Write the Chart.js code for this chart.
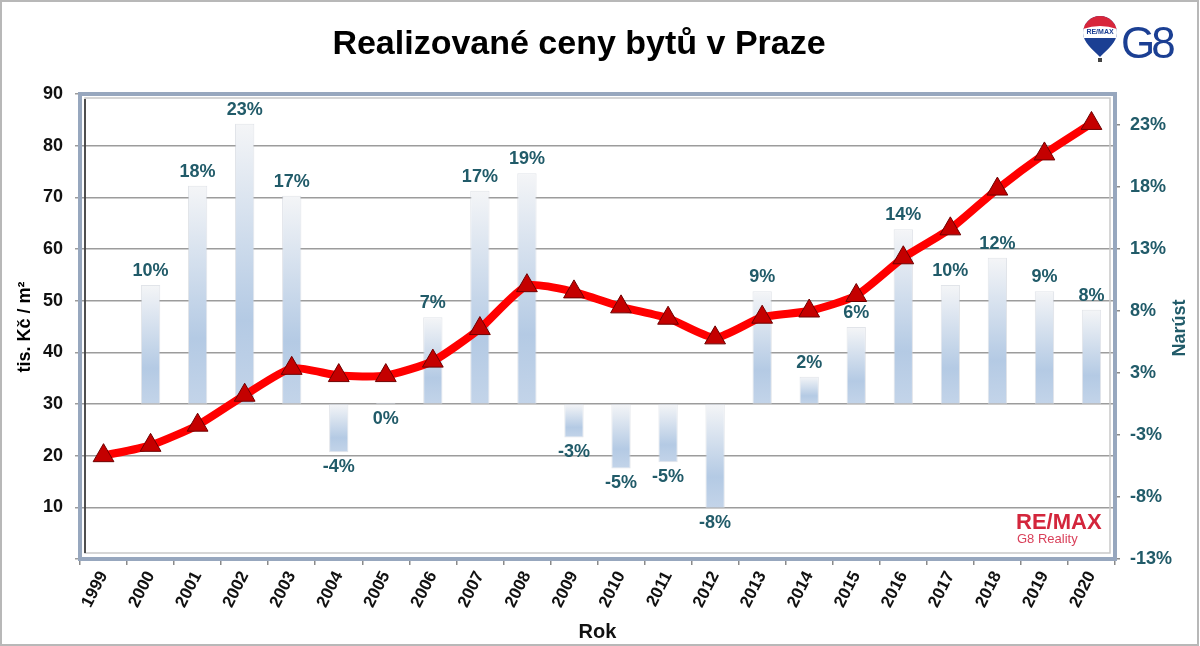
<!DOCTYPE html>
<html>
<head>
<meta charset="utf-8">
<script src="https://cdn.jsdelivr.net/npm/chart.js@4.4.1/dist/chart.umd.min.js"></script>
<style>
html, body { margin: 0; padding: 0; background: #fff; }
</style>
</head>
<body>
<canvas id="myChart" width="1200" height="646"></canvas>
<script>
// data
var years = ["1999", "2000", "2001", "2002", "2003", "2004", "2005", "2006", "2007", "2008", "2009",
  "2010", "2011", "2012", "2013", "2014", "2015", "2016", "2017", "2018", "2019", "2020"];

// tis. Kc / m2
var prices = [20, 22, 25.9, 31.7, 36.9, 35.5, 35.5, 38.3, 44.6, 52.9, 51.7,
  48.8, 46.6, 42.8, 46.8, 48.0, 51.0, 58.3, 63.9, 71.6, 78.4, 84.3];

// yearly growth in %
var growth = [null, 9.6, 17.6, 22.6, 16.8, -3.9, 0.1, 7.0, 17.2, 18.6, -2.7,
  -5.2, -4.7, -8.4, 9.1, 2.2, 6.2, 14.1, 9.6, 11.8, 9.1, 7.6];

var growthTicks = [-12.5, -7.5, -2.5, 2.5, 7.5, 12.5, 17.5, 22.5];

var FONT = "'Liberation Sans', Arial, sans-serif";
var TEAL = "#215b69";

//gradient for every bar, built from the right scale
function barFill(ctx) {
  var chart = ctx.chart;
  var sc = chart.scales.y2;
  if (!sc || ctx.raw == null || ctx.type !== "data") return "#c9d8ea";
  var y1 = sc.getPixelForValue(ctx.raw);
  var y0 = sc.getPixelForValue(0);
  var top = Math.min(y0, y1), bot = Math.max(y0, y1);
  if (bot - top < 1) bot = top + 1;
  var g = chart.ctx.createLinearGradient(0, top, 0, bot);
  g.addColorStop(0, "#f4f5f7");
  g.addColorStop(0.7, "#b4cae4");
  g.addColorStop(1, "#c3d4e9");
  return g;
}

function pctLabel(v) {
  var r = v < 0 ? -Math.round(-v) : Math.round(v);
  return r + "%";
}

//white page, outer border, plot frame
var framePlugin = {
  id: "frame",
  beforeDraw: function (chart) {
    var c = chart.ctx;
    c.save();
    c.fillStyle = "#fff";
    c.fillRect(0, 0, chart.width, chart.height);
    c.strokeStyle = "#b8b8b8";
    c.lineWidth = 2;
    c.strokeRect(1, 1, chart.width - 3, chart.height - 2);
    c.restore();
  },
  beforeDatasetsDraw: function (chart) {
    var a = chart.chartArea;
    var c = chart.ctx;
    c.save();
    c.strokeStyle = "#c9c9c9";
    c.lineWidth = 1.5;
    c.strokeRect(a.left + 5, a.top + 4, a.right - a.left - 10, a.bottom - a.top - 10);
    c.strokeStyle = "#222";
    c.beginPath();
    c.moveTo(a.left + 5, a.top + 5);
    c.lineTo(a.left + 5, a.bottom - 6);
    c.stroke();
    c.strokeStyle = "#97a7be";
    c.lineWidth = 4;
    c.strokeRect(a.left, a.top, a.right - a.left, a.bottom - a.top);
    c.restore();
  }
};

//percent labels on bars
var barLabels = {
  id: "barLabels",
  afterDatasetsDraw: function (chart) {
    var meta = chart.getDatasetMeta(1);
    var c = chart.ctx;
    c.save();
    c.font = "bold 18px " + FONT;
    c.fillStyle = TEAL;
    c.textAlign = "center";
    meta.data.forEach(function (bar, i) {
      var v = growth[i];
      if (v == null) return;
      var r = Math.round(v);
      if (r > 0) {
        c.textBaseline = "bottom";
        c.fillText(pctLabel(v), bar.x, Math.min(bar.y, bar.base) - 5);
      } else {
        c.textBaseline = "top";
        c.fillText(pctLabel(v), bar.x, Math.max(bar.y, bar.base) + 6);
      }
    });
    c.restore();
  }
};

//title, axis titles, logos
var extras = {
  id: "extras",
  afterDraw: function (chart) {
    var c = chart.ctx;
    c.save();
    c.fillStyle = "#000";
    c.font = "bold 34px " + FONT;
    c.textAlign = "center";
    c.textBaseline = "middle";
    c.fillText("Realizované ceny bytů v Praze", 579, 45);

    // left axis title
    c.save();
    c.translate(25, 327);
    c.rotate(-Math.PI / 2);
    c.font = "bold 18px " + FONT;
    c.fillText("tis. Kč / m²", 0, 0);
    c.restore();

    // right axis title
    c.save();
    c.translate(1180, 328);
    c.rotate(-Math.PI / 2);
    c.fillStyle = TEAL;
    c.font = "bold 18px " + FONT;
    c.fillText("Narúst", 0, 0);
    c.restore();

    // balloon
    var cx = 1100;
    c.save();
    c.beginPath();
    c.moveTo(cx, 57);
    c.bezierCurveTo(cx - 7, 50, cx - 17, 42, cx - 17, 33);
    c.arc(cx, 33, 17, Math.PI, 0);
    c.bezierCurveTo(cx + 17, 42, cx + 7, 50, cx, 57);
    c.closePath();
    c.clip();
    c.fillStyle = "#1b3f93";
    c.fillRect(cx - 20, 14, 40, 46);
    c.fillStyle = "#fff";
    c.fillRect(cx - 20, 26, 40, 12);
    c.fillStyle = "#d8263b";
    c.beginPath();
    c.moveTo(cx - 20, 14);
    c.lineTo(cx + 20, 14);
    c.lineTo(cx + 20, 30);
    c.quadraticCurveTo(cx, 22, cx - 20, 30);
    c.fill();
    c.restore();
    c.fillStyle = "#1b3f93";
    c.font = "bold 7px " + FONT;
    c.fillText("RE/MAX", cx, 32);
    c.fillStyle = "#444";
    c.fillRect(cx - 2, 58, 4, 4);

    c.fillStyle = "#1b3f93";
    c.font = "44px " + FONT;
    c.textAlign = "left";
    c.textBaseline = "alphabetic";
    if ("letterSpacing" in c) c.letterSpacing = "-4px";
    c.fillText("G8", 1121, 58);
    if ("letterSpacing" in c) c.letterSpacing = "0px";

    // small logo in the plot
    c.fillStyle = "#d3263c";
    c.font = "bold 22px " + FONT;
    c.fillText("RE/MAX", 1016, 529);
    c.font = "13px " + FONT;
    c.fillStyle = "#d9405a";
    c.fillText("G8 Reality", 1017, 543);
    c.restore();
  }
};

new Chart("myChart", {
  data: {
    labels: years,
    datasets: [
      {
        type: "line",
        label: "Cena",
        data: prices,
        yAxisID: "y",
        order: 1,
        borderColor: "#ff0000",
        borderWidth: 8,
        tension: 0.2,
        pointStyle: "triangle",
        pointRadius: 12,
        pointBackgroundColor: "#c40000",
        pointBorderColor: "#6e0000",
        pointBorderWidth: 1
      },
      {
        type: "bar",
        label: "Narust",
        data: growth,
        yAxisID: "y2",
        order: 2,
        backgroundColor: barFill,
        borderColor: "rgba(205,210,218,0.6)",
        borderWidth: 1,
        borderSkipped: false,
        barPercentage: 0.41,
        categoryPercentage: 1
      }
    ]
  },
  plugins: [framePlugin, barLabels, extras],
  options: {
    responsive: false,
    animation: false,
    layout: { padding: { top: 94, left: 0, right: 0, bottom: 0 } },
    plugins: {
      legend: { display: false },
      title: { display: false },
      tooltip: { enabled: false }
    },
    scales: {
      x: {
        type: "category",
        offset: true,
        grid: { display: true, drawOnChartArea: false, drawTicks: true, tickLength: 6, offset: true, color: "#8a8a8a", lineWidth: 1.5 },
        border: { display: false },
        ticks: {
          autoSkip: false,
          maxRotation: 63,
          minRotation: 63,
          padding: 3,
          color: "#111",
          font: { family: FONT, size: 17, weight: "bold" }
        },
        title: {
          display: true,
          text: "Rok",
          color: "#111",
          font: { family: FONT, size: 20, weight: "bold" },
          padding: { top: 0, bottom: 2 }
        },
        afterFit: function (s) { s.height = 87; }
      },
      y: {
        position: "left",
        min: 0,
        max: 90,
        grid: { color: "#9c9c9c", lineWidth: 1.5, drawTicks: true, tickLength: 5 },
        border: { display: false },
        ticks: {
          stepSize: 10,
          padding: 12,
          color: "#111",
          font: { family: FONT, size: 18, weight: "bold" },
          callback: function (v) { return v === 0 ? "" : v; }
        },
        afterFit: function (s) { s.width = 80; }
      },
      y2: {
        position: "right",
        min: -12.5,
        max: 25,
        grid: { drawOnChartArea: false, drawTicks: true, tickLength: 5, color: "#8a8a8a", lineWidth: 1.5 },
        border: { display: false },
        afterBuildTicks: function (s) {
          s.ticks = growthTicks.map(function (v) { return { value: v }; });
        },
        ticks: {
          padding: 10,
          color: TEAL,
          font: { family: FONT, size: 18, weight: "bold" },
          callback: function (v) { return pctLabel(v); }
        },
        afterFit: function (s) { s.width = 85; }
      }
    }
  }
});
</script>
</body>
</html>
